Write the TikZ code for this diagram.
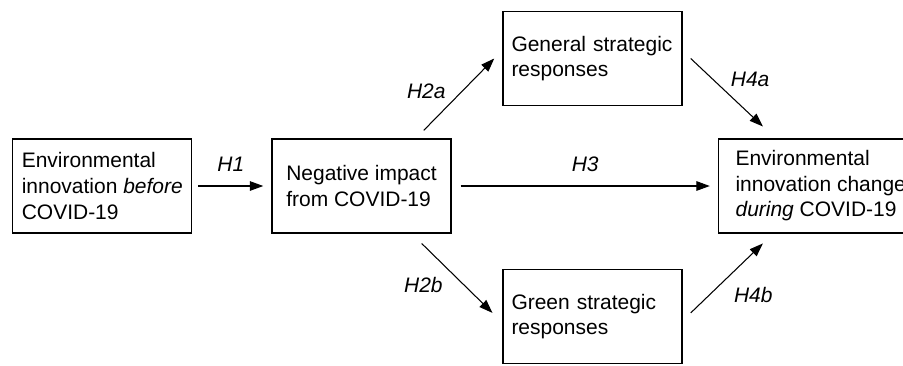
\documentclass[tikz,border=0pt]{standalone}
\usepackage{fontspec}
\setmainfont{Liberation Sans}
\usepackage{tikz}
\usetikzlibrary{arrows.meta,positioning}

\begin{document}
\begin{tikzpicture}[
    box/.style={draw, line width=1.1pt, align=left, minimum width=5.97cm, minimum height=3.13cm, font=\fontsize{19.9}{24.2}\selectfont},
    hyp/.style={font=\fontsize{19.9}{24.2}\selectfont\itshape, inner sep=0pt},
    >={Triangle[length=4.5mm,width=3.2mm]}, line width=1pt]
    \useasboundingbox (0,0) rectangle (30.1,-12.17);

    \node[box] (envbefore) at (3.41,-6.2) {Environmental\\innovation \textit{before}\\COVID-19};
    \node[box] (negimpact) at (12.05,-6.2) {Negative impact\\from COVID-19};
    \node[box, text width=5.4cm] (general) at (19.75,-1.95) {General strategic\\responses};
    \node[box, text width=5.4cm] (green) at (19.75,-10.55) {Green strategic\\responses};
    \node[box, anchor=west, inner xsep=0.57cm] (envduring) at (23.93,-6.2) {Environmental\\innovation change\\\textit{during} COVID-19};

    \draw[->] ([xshift=0.2cm]envbefore.east) -- ([xshift=-0.27cm]negimpact.west) node[midway, hyp, above=0.47cm] (h1) {H1};
    \draw[->] ([xshift=-0.93cm,yshift=0.27cm]negimpact.north east) -- ([xshift=-0.27cm]general.west) node[pos=0.55, hyp, left=0.55cm] (h2a) {H2a};
    \draw[->] ([xshift=-1cm,yshift=-0.33cm]negimpact.south east) -- ([xshift=-0.33cm,yshift=0.12cm]green.west) node[pos=0.6, hyp, left=0.7cm] (h2b) {H2b};
    \draw[->] ([xshift=0.3cm]negimpact.east) -- ([xshift=-0.27cm]envduring.west) node[midway, hyp, above=0.47cm] (h3) {H3};
    \draw[->] ([xshift=0.27cm]general.east) -- ([xshift=1.5cm,yshift=0.4cm]envduring.north west) node[pos=0.3, hyp, right=0.6cm] (h4a) {H4a};
    \draw[->] ([xshift=0.27cm,yshift=0.12cm]green.east) -- ([xshift=1.5cm,yshift=-0.33cm]envduring.south west) node[pos=0.26, hyp, right=0.8cm] (h4b) {H4b};
\end{tikzpicture}
\end{document}
